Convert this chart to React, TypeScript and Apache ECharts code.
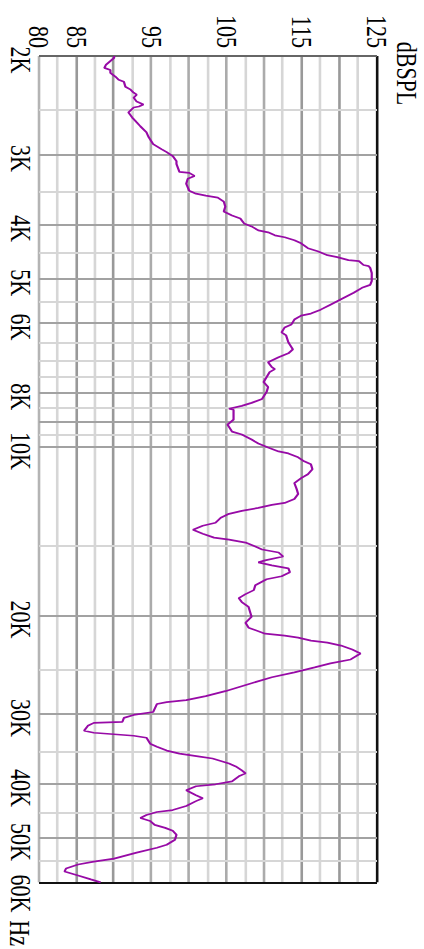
import React, { useEffect, useRef } from "react";
import * as echarts from "echarts";

const freqHz = [
  2000, 2016, 2075, 2100, 2118, 2143, 2179, 2206, 2224, 2270, 2297, 2326, 2345, 2374, 2413, 2442, 2462, 2472, 2523, 2575,
  2628, 2672, 2738, 2794, 2875, 2934, 2970, 3019, 3082, 3119, 3223, 3236, 3276, 3316, 3384, 3482, 3525, 3554, 3583, 3642,
  3717, 3794, 3856, 3904, 3984, 4033, 4100, 4133, 4184, 4218, 4270, 4323, 4412, 4466, 4540, 4577, 4633, 4652, 4728, 4748,
  4787, 4885, 5047, 5130, 5193, 5300, 5410, 5566, 5681, 5774, 5822, 5917, 6039, 6114, 6240, 6317, 6500, 6689, 6800, 6912,
  7054, 7199, 7258, 7347, 7499, 7653, 7811, 7972, 8203, 8338, 8441, 8544, 8579, 8936, 9120, 9385, 9500, 9696, 9855, 10017,
  10182, 10266, 10435, 10606, 10737, 10958, 11184, 11368, 11602, 11889, 12134, 12384, 12588, 12691, 12847, 13005, 13165, 13382, 13658, 13826,
  14053, 14285, 14520, 14639, 14819, 15062, 15248, 15435, 15689, 15947, 16078, 16276, 16476, 16747, 17023, 17232, 17659, 18023, 18319, 18620,
  18927, 19317, 19709, 20115, 20614, 21038, 21558, 21735, 21914, 22184, 22366, 22641, 23014, 23393, 23973, 24368, 24770, 25280, 25800, 26438,
  27316, 27879, 28337, 28569, 28803, 29758, 30124, 30494, 30996, 31123, 31505, 32155, 32418, 32817, 33085, 33904, 34322, 34887, 35316, 35750,
  36043, 36785, 37237, 37850, 38315, 38787, 39586, 40074, 40403, 41067, 41913, 42428, 42950, 43835, 44556, 44921, 45474, 46033, 46599, 47366,
  47948, 48538, 49337, 50354, 51391, 52023, 53095, 54410, 55079, 55757, 56674, 57371, 58316, 59276, 60000,
];

const levelDb = [
  90.0, 90.0, 88.9, 88.7, 89.5, 89.5, 90.2, 90.6, 91.3, 91.5, 92.2, 92.6, 93.0, 92.6, 93.0, 93.9, 93.3, 92.6, 91.9, 92.4,
  93.0, 93.5, 94.3, 94.6, 95.2, 96.3, 97.0, 97.8, 98.3, 98.3, 98.7, 100.0, 100.7, 99.8, 99.6, 100.0, 100.9, 102.2, 103.8, 104.6,
  104.8, 104.6, 105.7, 106.8, 107.3, 108.3, 109.2, 110.5, 111.4, 112.7, 114.0, 114.9, 115.8, 117.1, 118.4, 119.7, 121.2, 122.6, 123.2, 123.9,
  124.1, 124.3, 124.3, 124.1, 123.0, 121.9, 120.6, 118.8, 117.5, 116.2, 114.9, 114.0, 113.6, 112.7, 112.3, 112.9, 113.2, 113.8, 113.2, 111.9,
  110.5, 111.0, 111.4, 110.7, 110.3, 109.9, 110.5, 110.3, 109.7, 108.3, 107.0, 105.3, 105.9, 105.9, 105.1, 105.7, 107.0, 108.3, 109.2, 110.5,
  111.9, 113.2, 114.5, 115.3, 116.2, 116.4, 115.8, 114.9, 114.0, 114.3, 114.5, 114.0, 112.7, 111.0, 109.2, 107.0, 105.3, 104.2, 103.5, 101.8,
  100.5, 101.8, 103.3, 105.3, 107.5, 108.8, 109.7, 111.9, 112.5, 110.1, 109.2, 111.0, 113.2, 113.4, 112.3, 110.3, 108.8, 108.6, 107.5, 106.6,
  107.0, 107.9, 108.1, 108.3, 107.5, 107.9, 110.1, 112.7, 114.5, 116.2, 118.4, 120.2, 121.7, 122.8, 121.5, 118.8, 116.7, 114.0, 111.0, 108.3,
  104.8, 102.2, 99.6, 97.0, 95.7, 95.2, 92.6, 91.3, 91.1, 87.3, 86.5, 86.0, 87.3, 92.6, 94.3, 94.8, 95.7, 97.0, 98.7, 101.4,
  103.1, 105.3, 106.2, 107.0, 107.5, 106.6, 105.7, 103.5, 100.9, 99.6, 100.9, 101.8, 100.9, 99.6, 97.8, 95.7, 94.3, 93.5, 94.8, 95.4,
  96.8, 97.8, 98.3, 98.1, 97.0, 95.7, 93.0, 90.0, 87.3, 85.2, 83.6, 83.4, 85.2, 86.9, 88.2,
];

const freqTickLabels = [2000, 3000, 4000, 5000, 6000, 8000, 10000, 20000, 30000, 40000, 50000, 60000];
const freqMajorGrid = [3000, 4000, 5000, 6000, 8000, 9000, 10000, 20000, 30000, 40000, 50000];
const freqMinorGrid = [2500, 3500, 4500, 5500, 6500, 7000, 7500, 8500, 9500, 15000, 25000, 35000, 45000, 55000];
const dbTickLabels = [80, 85, 95, 105, 115, 125];

const STRETCH = 424 / 326;
const CHART_W = 949;
const CHART_H = 326;
const FONT = "'Liberation Serif', 'Times New Roman', serif";

function kLabel(f: number) {
  return f / 1000 + "K";
}

export default function App() {
  const ref = useRef<HTMLDivElement>(null);

  useEffect(() => {
    if (!ref.current) return;
    const chart = echarts.init(ref.current, null, { renderer: "svg" });

    const labelStyle = { fontFamily: FONT, fontSize: 22, color: "#000" };
    const freqLabel = (f: number, shift: number) => ({
      show: true,
      position: "start",
      distance: 3,
      formatter: kLabel(f),
      padding: [0, 0, 0, shift],
      ...labelStyle,
    });

    const gridLines: any[] = [];
    freqMinorGrid.forEach((f) =>
      gridLines.push({ xAxis: f, lineStyle: { color: "#d6d6d6", width: 2, type: "solid" }, label: { show: false } })
    );
    freqMajorGrid.forEach((f) =>
      gridLines.push({
        xAxis: f,
        lineStyle: { color: "#a2a2a2", width: 2, type: "solid" },
        label: freqTickLabels.includes(f) ? freqLabel(f, 8) : { show: false },
      })
    );
    gridLines.push({
      xAxis: 2000,
      lineStyle: { color: "#666", width: 2, type: "solid" },
      label: freqLabel(2000, 8),
    });
    gridLines.push({
      xAxis: 60000,
      lineStyle: { color: "#111", width: 2, type: "solid" },
      label: freqLabel(60000, 22),
    });

    const dbLineColors = [
      "#b4b4b4", "#d6d6d6", "#999", "#d6d6d6", "#999", "#d6d6d6", "#ababab", "#d6d6d6", "#ababab", "#d6d6d6",
      "#ababab", "#d6d6d6", "#ababab", "#d6d6d6", "#999", "#d6d6d6", "#999", "#d6d6d6", "#111",
    ];

    chart.setOption({
      animation: false,
      backgroundColor: "#fff",
      grid: { left: 56, right: 59, top: 47 / STRETCH, bottom: CHART_H - 390 / STRETCH },
      xAxis: {
        type: "log",
        logBase: 10,
        min: 2000,
        max: 60000,
        axisLine: { show: false },
        axisTick: { show: false },
        axisLabel: { show: false },
        splitLine: { show: false },
        name: "Hz",
        nameLocation: "end",
        nameGap: 38,
        nameTextStyle: { ...labelStyle, verticalAlign: "top", lineHeight: 30 },
      },
      yAxis: {
        type: "value",
        min: 80,
        max: 125,
        interval: 2.5,
        axisLine: { show: false },
        axisTick: { show: false },
        axisLabel: {
          ...labelStyle,
          margin: 8,
          formatter: (v: number) => (dbTickLabels.includes(v) ? String(v) : ""),
        },
        splitLine: { show: true, lineStyle: { color: dbLineColors, width: 2 } },
        name: "dBSPL",
        nameLocation: "end",
        nameGap: 12,
        nameTextStyle: { ...labelStyle, padding: [0, 0, 0, 35] },
      },
      series: [
        {
          type: "line",
          data: [],
          silent: true,
          markLine: {
            silent: true,
            z: 1,
            symbol: ["none", "none"],
            animation: false,
            data: gridLines,
          },
        },
        {
          type: "line",
          z: 3,
          data: freqHz.map((f, i) => [f, levelDb[i]]),
          showSymbol: false,
          symbol: "none",
          lineStyle: { color: "#970aa6", width: 1.7 },
        },
      ],
    });

    return () => chart.dispose();
  }, []);

  return (
    <div
      style={{
        position: "fixed",
        left: 0,
        top: 0,
        width: 424,
        height: 949,
        overflow: "hidden",
        background: "#fff",
      }}
    >
      <div
        ref={ref}
        style={{
          position: "absolute",
          left: 0,
          top: 0,
          width: CHART_W,
          height: CHART_H,
          transformOrigin: "0 0",
          transform: `translate(424px, 0px) rotate(90deg) scale(1, ${STRETCH})`,
        }}
      />
    </div>
  );
}
